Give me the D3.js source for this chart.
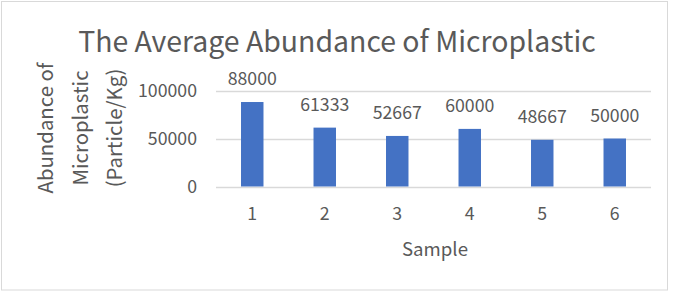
<!DOCTYPE html>
<html>
<head>
<meta charset="utf-8">
<script src="https://cdn.jsdelivr.net/npm/d3@7"></script>
<style>
  html, body { margin: 0; padding: 0; background: #fff; }
  svg { display: block; font-family: "Noto Sans CJK KR", "Noto Sans", sans-serif; }
</style>
</head>
<body>
<svg id="chart" width="673" height="293"></svg>
<script>
const categories = ["1", "2", "3", "4", "5", "6"];
const values = [88000, 61333, 52667, 60000, 48667, 50000];
const yTicks = [0, 50000, 100000];
const chartTitle = "The Average Abundance of Microplastic";
const xTitle = "Sample";
const yTitleLines = ["Abundance of", "Microplastic", "(Particle/Kg)"];

const FONT = "Noto Sans CJK KR";
const svg = d3.select("#chart");
const textColor = "#595959";

function fitSize(text, width) {
  const t = svg.append("text").attr("font-family", FONT).attr("font-size", 100).text(text);
  const w = t.node().getComputedTextLength();
  t.remove();
  return 100 * width / w;
}

// outer border
svg.append("rect")
  .attr("x", 1.5).attr("y", 1.5)
  .attr("width", 666).attr("height", 288.5)
  .attr("fill", "#fff").attr("stroke", "#d9d9d9").attr("stroke-width", 1);

const plot = { left: 216, right: 651, top: 90.5, bottom: 186.5 };

const x = d3.scaleBand().domain(categories).range([plot.left, plot.right]).paddingInner(0.69).paddingOuter(0.345);
const y = d3.scaleLinear().domain([0, 100000]).range([plot.bottom, plot.top]);

// gridlines
svg.append("g").selectAll("line").data(yTicks).join("line")
  .attr("x1", plot.left).attr("x2", plot.right)
  .attr("y1", d => Math.round(y(d)) + 0.5).attr("y2", d => Math.round(y(d)) + 0.5)
  .attr("stroke", "#d9d9d9").attr("stroke-width", 1.5);

const tickSize = fitSize("100000", 59);

// y axis labels
const yAxis = d3.axisLeft(y).tickValues(yTicks).tickSize(0).tickPadding(0).tickFormat(d3.format("d"));
const gy = svg.append("g").attr("transform", `translate(197,0)`).call(yAxis);
gy.select(".domain").remove();
gy.selectAll("text").attr("fill", textColor).attr("font-size", tickSize).attr("font-family", FONT).attr("dy", "0.33em");

// bars
svg.append("g").selectAll("rect").data(values).join("rect")
  .attr("x", (d, i) => x(categories[i]))
  .attr("width", x.bandwidth())
  .attr("y", d => y(d))
  .attr("height", d => y(0) - y(d))
  .attr("fill", "#4472c4");

// data labels
svg.append("g").selectAll("text").data(values).join("text")
  .attr("x", (d, i) => x(categories[i]) + x.bandwidth() / 2)
  .attr("y", d => y(d) - 17)
  .attr("text-anchor", "middle")
  .attr("fill", textColor).attr("font-size", tickSize)
  .text(d => d);

// x axis labels
const xAxis = d3.axisBottom(x).tickSize(0).tickPadding(0);
const gx = svg.append("g").attr("transform", `translate(0,220)`).call(xAxis);
gx.select(".domain").remove();
gx.selectAll("text").attr("fill", textColor).attr("font-size", tickSize).attr("font-family", FONT).attr("dy", 0);

// x title
svg.append("text").attr("x", 435).attr("y", 256).attr("text-anchor", "middle")
  .attr("fill", textColor).attr("font-size", fitSize(xTitle, 66)).text(xTitle);

// y title
const yTitleSize = fitSize(yTitleLines[0], 131);
const yBaselines = [53, 87.5, 122];
svg.append("g").selectAll("text").data(yTitleLines).join("text")
  .attr("transform", (d, i) => `translate(${yBaselines[i]},128) rotate(-90)`)
  .attr("text-anchor", "middle")
  .attr("fill", textColor).attr("font-size", yTitleSize).text(d => d);

// chart title
svg.append("text").attr("x", 337).attr("y", 52).attr("text-anchor", "middle")
  .attr("fill", textColor).attr("font-size", fitSize(chartTitle, 518)).text(chartTitle);
</script>
</body>
</html>
